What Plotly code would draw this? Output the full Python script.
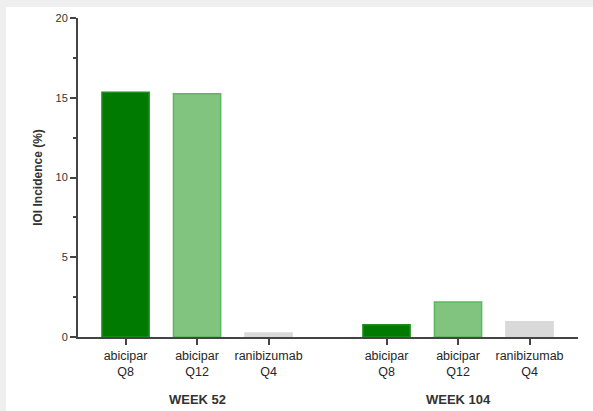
import plotly.graph_objects as go

# ---- data ----
groups = ["WEEK 52", "WEEK 104"]
treatments = ["abicipar<br>Q8", "abicipar<br>Q12", "ranibizumab<br>Q4"]
week52_values = [15.35, 15.25, 0.25]
week104_values = [0.77, 2.2, 0.95]
y_ticks = [0, 5, 10, 15, 20]

fill_colors = ["#007a00", "#80c480", "#d9d9d9"]
line_colors = ["#1f8f1f", "#5cb85c", "#d9d9d9"]

GROUP_GAP = 3.65
values_by_group = [week52_values, week104_values]

W, H = 593, 411
ML, MR, MT, MB = 78, 15, 16, 74
PW, PH = W - ML - MR, H - MT - MB

fig = go.Figure()
xs_all, labels_all = [], []
for g, vals in enumerate(values_by_group):
    xs = [i + g * GROUP_GAP for i in range(len(treatments))]
    xs_all += xs
    labels_all += treatments
    fig.add_trace(go.Bar(
        x=xs, y=vals, width=0.66,
        marker=dict(color=fill_colors, line=dict(color=line_colors, width=1.5)),
        showlegend=False, hoverinfo="skip",
    ))
    fig.add_annotation(
        x=xs[1], y=0, xref="x", yref="paper", yanchor="middle",
        yshift=-62, text="<b>" + groups[g] + "</b>", showarrow=False,
        font=dict(family="Liberation Sans, Arial", size=13, color="#333333"),
    )

xrange = [-0.665, -0.665 + PW / 71.5]

fig.update_xaxes(
    range=xrange, tickvals=xs_all, ticktext=labels_all,
    showline=True, linecolor="#444444", linewidth=2,
    ticks="outside", ticklen=6, tickwidth=2, tickcolor="#444444",
    tickfont=dict(family="Liberation Sans, Arial", size=12.5, color="#262626"),
    showgrid=False, zeroline=False, fixedrange=True,
)
fig.update_yaxes(
    range=[0, 20], tickvals=y_ticks,
    showline=True, linecolor="#444444", linewidth=2,
    ticks="outside", ticklen=6, tickwidth=2, tickcolor="#444444",
    tickfont=dict(family="Liberation Sans, Arial", size=11, color="#333333"),
    tickprefix="<b>", ticksuffix="</b>",
    minor=dict(dtick=2.5, tick0=0, ticks="outside", ticklen=3, tickwidth=2,
               tickcolor="#444444", showgrid=False),
    showgrid=False, zeroline=False,
    title=dict(text="<b>IOI Incidence (%)</b>", standoff=10,
               font=dict(family="Liberation Sans, Arial", size=12, color="#333333")),
)

# white sheet leaving the light-grey strips (left and top) of the original picture
def px_to_paper_x(px):
    return (px - ML) / PW

def px_to_paper_y(py):
    return (H - MB - py) / PH

fig.add_shape(type="rect", xref="paper", yref="paper", layer="below",
              x0=px_to_paper_x(6), x1=px_to_paper_x(W + 10),
              y0=px_to_paper_y(H + 10), y1=px_to_paper_y(5),
              fillcolor="white", line=dict(width=0))

fig.update_layout(
    width=W, height=H,
    margin=dict(l=ML, r=MR, t=MT, b=MB, pad=0),
    paper_bgcolor="#efefef", plot_bgcolor="rgba(0,0,0,0)",
    bargap=0, barmode="overlay",
)

fig.write_html(
    "out.html",
    config={"displayModeBar": False, "staticPlot": True},
    post_script="document.body.style.margin='0';document.body.style.overflow='hidden';",
)
